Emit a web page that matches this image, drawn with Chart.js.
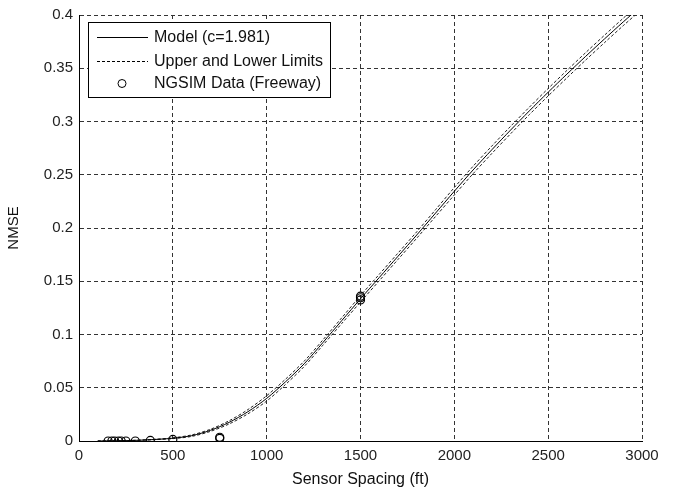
<!DOCTYPE html>
<html>
<head>
<meta charset="utf-8">
<script src="https://cdn.jsdelivr.net/npm/chart.js@4.4.1/dist/chart.umd.min.js"></script>
<style>
  html, body { margin: 0; padding: 0; background: #fff; }
  #wrap { width: 673px; height: 492px; position: relative; }
</style>
</head>
<body>
<div id="wrap"><canvas id="nmseChart"></canvas></div>
<script>
// sensor spacing (ft) for the model curves
const spacing = [100, 200, 300, 400, 500, 600, 700, 800, 900, 1000, 1100, 1200, 1300, 1400, 1500,
  1600, 1700, 1800, 1900, 2000, 2100, 2200, 2300, 2400, 2500, 2600, 2700, 2800, 2900, 3000];

const modelNmse = [0, 0.0002, 0.0006, 0.0014, 0.0026, 0.0050, 0.0100, 0.0175, 0.0275, 0.0400, 0.0555, 0.0725,
  0.0925, 0.1130, 0.1335, 0.1535, 0.1735, 0.1935, 0.2140, 0.2345, 0.2545, 0.2735, 0.2920, 0.3100,
  0.3275, 0.3445, 0.3612, 0.3775, 0.3935, 0.4090];

const upperNmse = [0, 0.0002, 0.0007, 0.0016, 0.0030, 0.0057, 0.0110, 0.0190, 0.0295, 0.0425, 0.0580, 0.0750,
  0.0950, 0.1157, 0.1365, 0.1565, 0.1765, 0.1965, 0.2172, 0.2380, 0.2580, 0.2770, 0.2955, 0.3135,
  0.3310, 0.3480, 0.3647, 0.3810, 0.3970, 0.4125];

const lowerNmse = [0, 0.0002, 0.0005, 0.0012, 0.0022, 0.0043, 0.0090, 0.0160, 0.0255, 0.0375, 0.0530, 0.0700,
  0.0900, 0.1103, 0.1305, 0.1505, 0.1705, 0.1905, 0.2108, 0.2310, 0.2510, 0.2700, 0.2885, 0.3065,
  0.3240, 0.3410, 0.3577, 0.3740, 0.3900, 0.4055];

// NGSIM freeway observations
const ngsimSpacing = [155, 175, 190, 210, 225, 250, 300, 380, 500, 750, 750, 1500, 1500, 1500];
const ngsimNmse = [0, 0, 0, 0, 0, 0, 0, 0.0005, 0.0015, 0.0025, 0.0035, 0.1325, 0.1345, 0.1360];

const xTicks = [0, 500, 1000, 1500, 2000, 2500, 3000];
const yTicks = [0, 0.05, 0.1, 0.15, 0.2, 0.25, 0.3, 0.35, 0.4];

const FONT = "'Liberation Sans', Arial, Helvetica, sans-serif";

const toPoints = (xs, ys) => xs.map((x, i) => ({ x: x, y: ys[i] }));

// matlab style legend box inside the axes
const boxLegend = {
  id: 'boxLegend',
  afterDatasetsDraw(chart) {
    const ctx = chart.ctx;
    const left = 88, top = 22, w = 242, h = 75;
    ctx.save();
    ctx.fillStyle = '#fff';
    ctx.fillRect(left, top, w, h);
    ctx.strokeStyle = '#000';
    ctx.lineWidth = 1;
    ctx.strokeRect(left + 0.5, top + 0.5, w, h);

    const rows = [
      { ds: chart.data.datasets[0], y: 37 },
      { ds: chart.data.datasets[1], y: 61 },
      { ds: chart.data.datasets[3], y: 83 }
    ];
    ctx.font = '16px ' + FONT;
    ctx.textBaseline = 'middle';
    ctx.fillStyle = '#111';
    rows.forEach(r => {
      ctx.strokeStyle = '#000';
      if (r.ds.showLine === false) {
        ctx.beginPath();
        ctx.arc(122, r.y + 0.5, 4, 0, Math.PI * 2);
        ctx.stroke();
      } else {
        ctx.setLineDash(r.ds.borderDash || []);
        ctx.beginPath();
        ctx.moveTo(97, r.y + 0.5);
        ctx.lineTo(148, r.y + 0.5);
        ctx.stroke();
        ctx.setLineDash([]);
      }
      ctx.fillText(r.ds.label, 154, r.y + 1);
    });
    ctx.restore();
  }
};

const ctx = document.getElementById('nmseChart');
new Chart(ctx, {
  type: 'scatter',
  data: {
    datasets: [
      {
        label: 'Model (c=1.981)',
        data: toPoints(spacing, modelNmse),
        showLine: true,
        borderColor: '#000',
        borderWidth: 1,
        pointRadius: 0,
        tension: 0.3
      },
      {
        label: 'Upper and Lower Limits',
        data: toPoints(spacing, upperNmse),
        showLine: true,
        borderColor: '#222',
        borderWidth: 1,
        borderDash: [3, 2],
        pointRadius: 0,
        tension: 0.3
      },
      {
        label: 'Upper and Lower Limits',
        data: toPoints(spacing, lowerNmse),
        showLine: true,
        borderColor: '#222',
        borderWidth: 1,
        borderDash: [3, 2],
        pointRadius: 0,
        tension: 0.3
      },
      {
        label: 'NGSIM Data (Freeway)',
        data: toPoints(ngsimSpacing, ngsimNmse),
        showLine: false,
        pointStyle: 'circle',
        pointRadius: 4,
        borderColor: '#000',
        backgroundColor: 'rgba(0,0,0,0)',
        borderWidth: 1.2
      }
    ]
  },
  options: {
    responsive: true,
    maintainAspectRatio: false,
    animation: false,
    layout: { padding: { left: 0, top: 12, right: 31, bottom: 0 } },
    plugins: {
      legend: { display: false },
      tooltip: { enabled: false }
    },
    scales: {
      x: {
        type: 'linear',
        min: 0,
        max: 3000,
        afterFit: s => { s.height = 51; },
        afterBuildTicks: s => { s.ticks = xTicks.map(v => ({ value: v })); },
        ticks: {
          font: { family: FONT, size: 15 },
          color: '#222',
          padding: 6,
          maxRotation: 0,
          callback: v => String(v)
        },
        grid: { color: '#333', lineWidth: 1, drawTicks: false },
        border: { display: true, color: '#000', width: 1, dash: [4, 3] },
        title: {
          display: true,
          text: 'Sensor Spacing (ft)',
          font: { family: FONT, size: 16 },
          color: '#111',
          padding: { top: 0, bottom: 3 }
        }
      },
      y: {
        type: 'linear',
        min: 0,
        max: 0.4,
        afterFit: s => { s.width = 79; },
        afterBuildTicks: s => { s.ticks = yTicks.map(v => ({ value: v })); },
        ticks: {
          font: { family: FONT, size: 15 },
          color: '#222',
          padding: 6,
          callback: v => String(Number(v.toFixed(2)))
        },
        grid: { color: '#333', lineWidth: 1, drawTicks: false },
        border: { display: true, color: '#000', width: 1, dash: [4, 3] },
        title: {
          display: true,
          text: 'NMSE',
          font: { family: FONT, size: 15 },
          color: '#111',
          padding: { top: 5, bottom: 0 }
        }
      }
    }
  },
  plugins: [boxLegend]
});
</script>
</body>
</html>
